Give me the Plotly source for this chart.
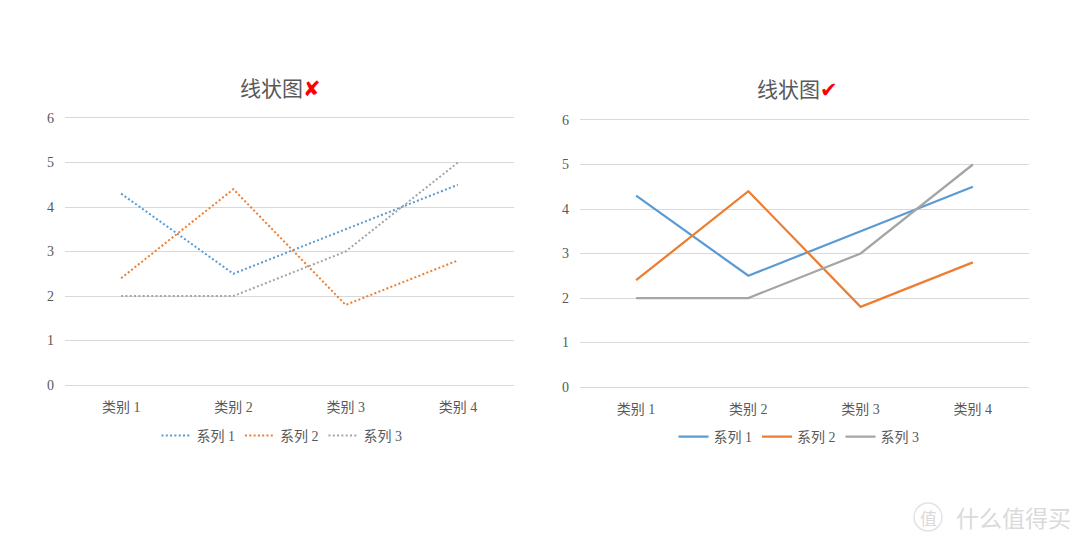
import plotly.graph_objects as go

categories = ["类别 1", "类别 2", "类别 3", "类别 4"]
series_names = ["系列 1", "系列 2", "系列 3"]
series1 = [4.3, 2.5, 3.5, 4.5]
series2 = [2.4, 4.4, 1.8, 2.8]
series3 = [2, 2, 3, 5]
series_values = [series1, series2, series3]
colors = ["#5B9BD5", "#ED7D31", "#A5A5A5"]
y_ticks = [0, 1, 2, 3, 4, 5, 6]

W, H = 1080, 544
TICK_FONT = dict(family="Liberation Serif, Noto Sans CJK SC", size=14, color="#595959")
LEG_FONT = dict(family="Liberation Serif, Noto Sans CJK SC", size=14, color="#595959")
YMAX = 6.03  # slightly above 6 so the top gridline is drawn


def ydomain(y0_px, y6_px):
    top_px = y0_px - (y0_px - y6_px) * YMAX / 6
    return [1 - y0_px / H, 1 - top_px / H]


fig = go.Figure()

for i, (name, vals) in enumerate(zip(series_names, series_values)):
    fig.add_trace(go.Scatter(
        x=categories, y=vals, name=name, mode="lines",
        line=dict(color=colors[i], width=2, dash="2px,2.3px"),
        xaxis="x", yaxis="y", legend="legend",
    ))
for i, (name, vals) in enumerate(zip(series_names, series_values)):
    fig.add_trace(go.Scatter(
        x=categories, y=vals, name=name, mode="lines",
        line=dict(color=colors[i], width=2.25),
        xaxis="x2", yaxis="y2", legend="legend2",
    ))


def xax(domain, anchor):
    return dict(domain=domain, anchor=anchor, type="category", range=[-0.5, 3.5],
                showgrid=False, zeroline=False, showline=False, ticks="",
                tickfont=TICK_FONT, ticklabelstandoff=12, fixedrange=True)


def yax(domain, anchor):
    return dict(domain=domain, anchor=anchor, range=[0, YMAX], tickvals=y_ticks,
                showgrid=True, gridcolor="#D9D9D9", gridwidth=1,
                zeroline=True, zerolinecolor="#D9D9D9", zerolinewidth=1,
                showline=False, ticks="", tickfont=TICK_FONT,
                ticklabelstandoff=10, fixedrange=True)


fig.update_layout(
    width=W, height=H, autosize=False,
    margin=dict(l=0, r=0, t=0, b=0, pad=0, autoexpand=False),
    paper_bgcolor="white", plot_bgcolor="white",
    xaxis=xax([65 / W, 514 / W], "y"),
    yaxis=yax(ydomain(385, 118), "x"),
    xaxis2=xax([580 / W, 1029 / W], "y2"),
    yaxis2=yax(ydomain(387, 120), "x2"),
    legend=dict(orientation="h", x=282 / W, y=1 - 436 / H, xanchor="center", yanchor="middle",
                font=LEG_FONT, bgcolor="rgba(0,0,0,0)", itemwidth=30, tracegroupgap=0),
    legend2=dict(orientation="h", x=799 / W, y=1 - 437 / H, xanchor="center", yanchor="middle",
                 font=LEG_FONT, bgcolor="rgba(0,0,0,0)", itemwidth=30, tracegroupgap=0),
    showlegend=True,
)

TITLE_FONT = dict(family="Noto Sans CJK SC, DejaVu Sans", size=21, color="#595959")
fig.add_annotation(x=280 / W, y=1 - 87 / H, xref="paper", yref="paper", showarrow=False,
                   text="线状图<span style='color:#FF0000'>✘</span>", font=TITLE_FONT,
                   xanchor="center", yanchor="middle")
fig.add_annotation(x=797 / W, y=1 - 88 / H, xref="paper", yref="paper", showarrow=False,
                   text="线状图<span style='color:#FF0000'>✔</span>", font=TITLE_FONT,
                   xanchor="center", yanchor="middle")

# watermark
fig.add_shape(type="circle", xref="paper", yref="paper",
              x0=914 / W, x1=942 / W, y0=1 - 531 / H, y1=1 - 503 / H,
              line=dict(color="#E3E3E3", width=1.5))
fig.add_annotation(x=928 / W, y=1 - 517 / H, xref="paper", yref="paper", showarrow=False,
                   text="值", font=dict(family="Noto Sans CJK SC", size=17, color="#DADADA"),
                   xanchor="center", yanchor="middle")
fig.add_annotation(x=1013 / W, y=1 - 517 / H, xref="paper", yref="paper", showarrow=False,
                   text="什么值得买", font=dict(family="Noto Sans CJK SC", size=23, color="#DADADA"),
                   xanchor="center", yanchor="middle")

fig.write_html("out.html")
